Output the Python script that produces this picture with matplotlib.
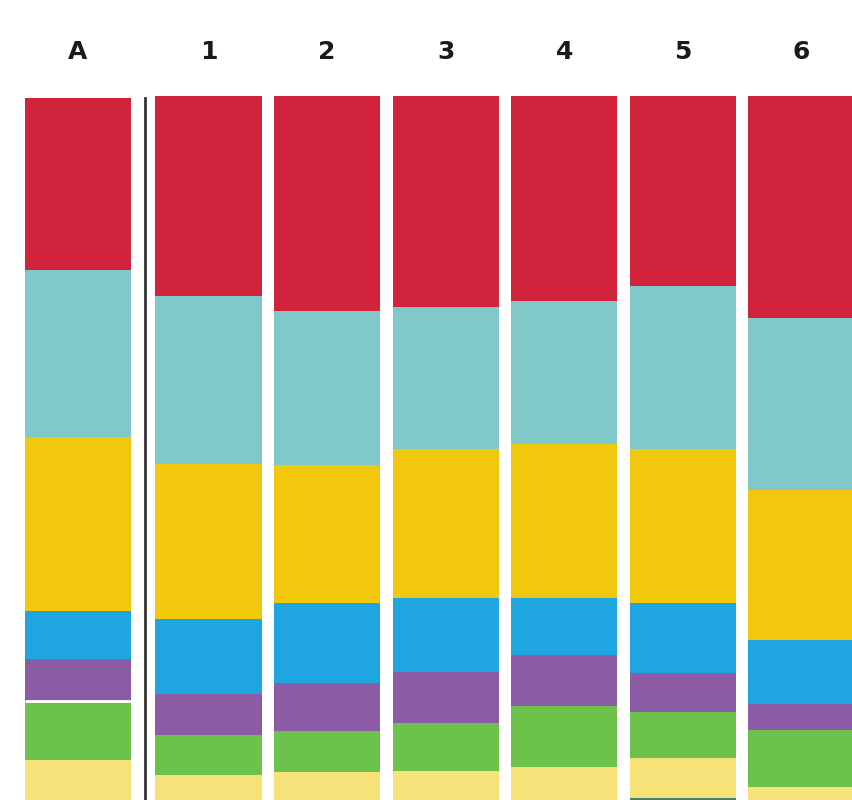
import matplotlib.pyplot as plt
import numpy as np

# Column labels and segment shares (%), stacked from top to bottom
labels = ['A', '1', '2', '3', '4', '5', '6']
red = [23.2, 27.0, 29.1, 28.5, 27.7, 25.7, 30.0]
teal = [22.6, 22.8, 20.8, 19.2, 19.3, 22.0, 23.2]
yellow = [23.5, 20.9, 18.6, 20.1, 20.8, 20.8, 20.3]
blue = [6.5, 10.1, 10.8, 10.1, 7.8, 9.5, 8.6]
purple = [5.7, 5.5, 6.5, 6.8, 6.9, 5.3, 3.6]
green = [8.0, 5.5, 5.5, 6.5, 8.2, 6.1, 7.7]
light_yellow = [6.0, 4.0, 4.5, 4.6, 5.1, 5.5, 2.4]
other = [4.2, 4.2, 4.2, 4.2, 4.2, 5.1, 4.2]

series = [other, light_yellow, green, purple, blue, yellow, teal, red]
colors = ['#4d7f6e', '#f7e27a', '#6cc24a', '#8c5ba6', '#1fa6e0',
          '#f2c80f', '#80c9c8', '#d1233b']

fig = plt.figure(figsize=(8.52, 8.0), dpi=100)
ax = fig.add_axes([0, 0, 1, 1])

# A sits a bit apart from the numbered columns
x = np.array([0] + [1.100 + i for i in range(len(labels) - 1)])

bottom = np.zeros(len(labels))
for vals, c in zip(series, colors):
    ax.bar(x, vals, bottom=bottom, width=0.894, color=c, linewidth=0)
    bottom += np.array(vals)

# thin white break in column A between purple and green
ax.hlines(other[0] + light_yellow[0] + green[0],
          x[0] - 0.447, x[0] + 0.447, color='white', lw=2)

# separator between A and the rest
ax.plot([0.565, 0.565], [0, 99.7], color='#333333', lw=2)

for xi, lab in zip(x, labels):
    ax.text(xi, 106.0, lab, ha='center', va='center', fontsize=18,
            fontweight='bold', color='#1a1a1a')

ax.set_xlim(-0.658, 6.526)
ax.set_ylim(4.86, 112.97)
ax.axis('off')

fig.savefig('out.png', dpi=100)
